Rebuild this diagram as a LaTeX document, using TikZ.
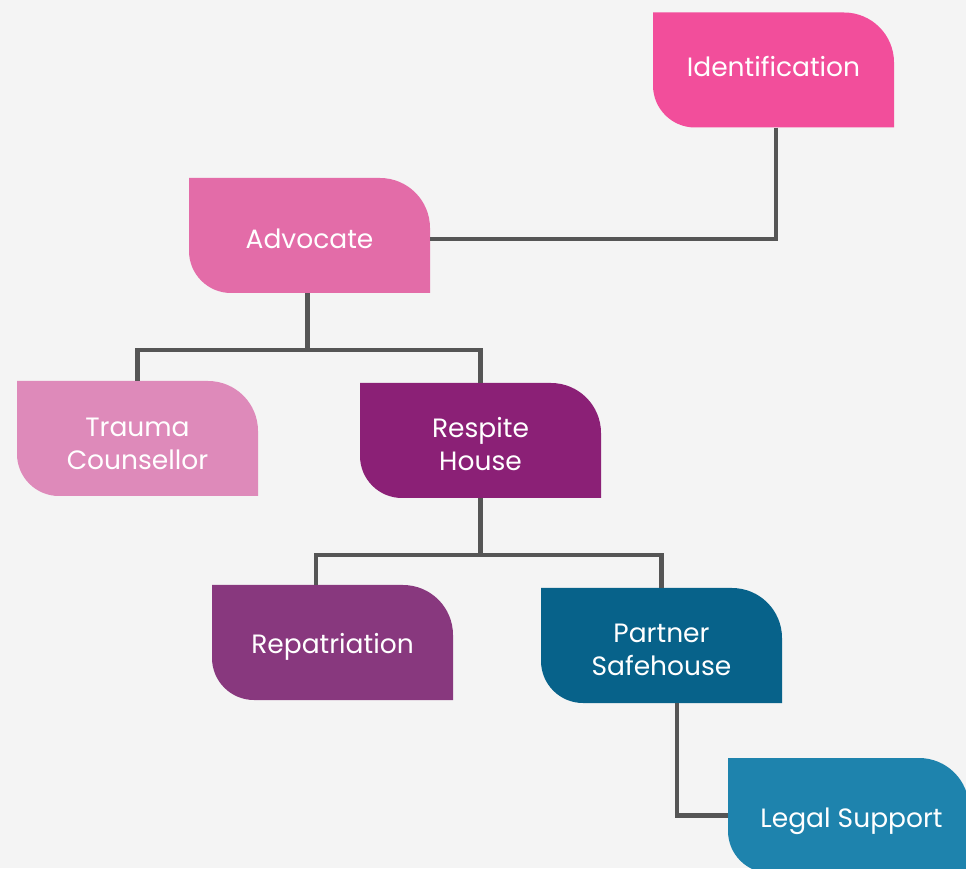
\documentclass[tikz,border=0pt]{standalone}
\usepackage{fontspec}
\setmainfont{Poppins}
\definecolor{bg}{HTML}{F4F4F4}
\definecolor{ln}{HTML}{555555}
\definecolor{cident}{HTML}{F24E9B}
\definecolor{cadv}{HTML}{E36CA8}
\definecolor{ctrauma}{HTML}{DE8ABA}
\definecolor{crespite}{HTML}{8B2076}
\definecolor{crepat}{HTML}{88387E}
\definecolor{cpartner}{HTML}{07628A}
\definecolor{clegal}{HTML}{1E83AD}
\tikzset{
  x=1pt,y=1pt,
  box/.style={minimum width=241pt, minimum height=115pt, inner sep=0pt,
    path picture={\fill[#1] (path picture bounding box.north west)
      -- ([xshift=-50pt]path picture bounding box.north east)
      arc[start angle=90,end angle=0,radius=50pt]
      -- (path picture bounding box.south east)
      -- ([xshift=42pt]path picture bounding box.south west)
      arc[start angle=270,end angle=180,radius=42pt] -- cycle;}},
  lbl/.style={inner sep=0pt, text=white, align=center,
    font=\fontsize{26.5}{33}\selectfont},
  conn/.style={draw=ln, line width=4.5pt}
}
\begin{document}
\begin{tikzpicture}
\useasboundingbox (0,0) rectangle (966,868);
\fill[bg] (0,0) rectangle (966,868);
\clip (0,0) rectangle (966,868);
\node[box=cident]   (ident)   at (773.5,798)   {};
\node[box=cadv]     (adv)     at (309.5,632.5) {};
\node[box=ctrauma]  (trauma)  at (137.5,429.5) {};
\node[box=crespite] (respite) at (480.5,427.5) {};
\node[box=crepat]   (repat)   at (332.5,225.5) {};
\node[box=cpartner] (partner) at (661.5,222.5) {};
\node[box=clegal]   (legal)   at (848.5,52.5)  {};
\node[lbl] (tident)   at ([yshift=3pt]ident.center)   {Identification};
\node[lbl] (tadv)     at ([yshift=-3pt]adv.center)    {Advocate};
\node[lbl] (ttrauma)  at ([yshift=-5pt]trauma.center) {Trauma\\Counsellor};
\node[lbl] (trespite) at ([yshift=-4pt]respite.center) {Respite\\House};
\node[lbl] (trepat)   at ([yshift=-4pt]repat.center)  {Repatriation};
\node[lbl] (tpartner) at ([yshift=-4pt]partner.center) {Partner\\Safehouse};
\node[lbl] (tlegal)   at ([xshift=3pt,yshift=-6pt]legal.center) {Legal Support};
\coordinate (j1) at (307.5,518);
\coordinate (j2) at (480.5,313);
\coordinate (i2) at ([xshift=2.5pt]ident.south);
\coordinate (r2) at ([xshift=-16.5pt]repat.north);
\coordinate (p2) at ([xshift=15.5pt]partner.south);
\coordinate (a2) at ([yshift=-3.5pt]adv.east);
\draw[conn] (i2) |- (a2);
\draw[conn] ([xshift=-2pt]adv.south) -- (j1);
\draw[conn] (trauma.north) |- (j1) -| (respite.north);
\draw[conn] (respite.south) -- (j2);
\draw[conn] (r2) |- (j2) -| (partner.north);
\draw[conn] (p2) |- (legal.west);
\end{tikzpicture}
\end{document}
